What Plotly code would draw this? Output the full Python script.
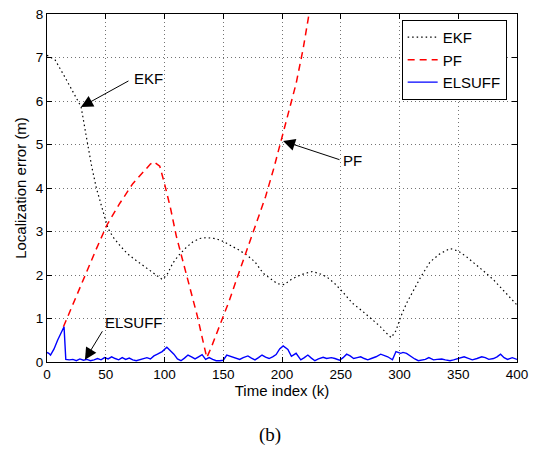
import plotly.graph_objects as go

# ---------------- data ----------------
ekf_t = [0, 7, 15, 22, 29, 34, 38, 42, 46, 49, 52, 56, 62, 68, 74, 80, 86, 92, 98,
         102, 107, 112, 118, 124, 130, 136, 142, 148, 156, 163, 170, 177, 184, 190,
         196, 202, 208, 214, 220, 226, 232, 238, 245, 252, 260, 268, 276, 283, 289,
         293, 297, 301, 306, 312, 318, 326, 334, 343, 350, 357, 365, 372, 380, 388,
         394, 400]
ekf_y = [7.05, 6.94, 6.56, 6.22, 5.87, 5.1, 4.5, 4.0, 3.6, 3.34, 3.07, 2.88, 2.68,
         2.5, 2.37, 2.25, 2.12, 2.0, 1.9, 2.0, 2.27, 2.45, 2.62, 2.76, 2.84, 2.86,
         2.84, 2.8, 2.69, 2.58, 2.46, 2.3, 2.04, 1.92, 1.8, 1.78, 1.9, 1.98, 2.04,
         2.08, 2.03, 1.96, 1.8, 1.6, 1.35, 1.18, 1.0, 0.83, 0.66, 0.56, 0.72, 1.04,
         1.35, 1.66, 1.95, 2.3, 2.48, 2.61, 2.55, 2.42, 2.25, 2.08, 1.89, 1.65,
         1.47, 1.31]

pf_t = [14, 20, 27, 35, 42, 51, 62, 73, 82, 88, 91, 96, 100, 105, 110, 116, 122,
        128, 133, 136, 140, 147, 155, 162, 170, 178, 186, 193, 200, 206, 212, 218,
        223, 228]
pf_y = [0.81, 1.2, 1.65, 2.15, 2.6, 3.15, 3.65, 4.1, 4.38, 4.55, 4.6, 4.5, 4.1,
        3.55, 2.9, 2.27, 1.7, 1.05, 0.45, 0.1, 0.35, 0.85, 1.4, 1.95, 2.55, 3.15,
        3.8, 4.45, 5.15, 5.75, 6.4, 7.2, 8.0, 8.8]

els_t = [0, 1.5, 3, 6, 9, 12, 14.5, 16, 19, 22, 25, 28, 31, 34, 37, 40, 43, 46, 49,
         52, 55, 58, 61, 64, 67, 70, 73, 76, 79, 82, 85, 88, 91, 94, 98, 102, 105,
         108, 111, 114, 117, 120, 123, 126, 129, 132, 135, 138, 141, 144, 147, 150,
         153, 157, 160, 164, 167, 171, 174, 177, 180, 183, 186, 189, 192, 195, 198,
         201, 205, 208, 212, 216, 219, 222, 225, 228, 231, 235, 238, 242, 245, 249,
         252, 255, 258, 261, 264, 267, 270, 273, 276, 280, 284, 287, 290, 294, 297,
         301, 303, 306, 310, 313, 316, 319, 322, 325, 329, 332, 336, 339, 343, 346,
         350, 355, 358, 362, 366, 370, 373, 376, 380, 383, 386, 389, 392, 396, 400]
els_y = [0.22, 0.2, 0.16, 0.3, 0.5, 0.68, 0.81, 0.06, 0.05, 0.06, 0.03, 0.07, 0.04,
         0.06, 0.03, 0.05, 0.08, 0.05, 0.1, 0.07, 0.12, 0.08, 0.05, 0.1, 0.06, 0.09,
         0.05, 0.03, 0.05, 0.08, 0.1, 0.07, 0.14, 0.18, 0.24, 0.34, 0.26, 0.18, 0.07,
         0.03, 0.09, 0.16, 0.12, 0.07, 0.12, 0.17, 0.06, 0.1, 0.06, 0.03, 0.03, 0.04,
         0.16, 0.13, 0.1, 0.06, 0.1, 0.14, 0.09, 0.05, 0.1, 0.16, 0.11, 0.08, 0.12,
         0.17, 0.3, 0.37, 0.29, 0.13, 0.2, 0.05, 0.1, 0.16, 0.09, 0.03, 0.07, 0.11,
         0.08, 0.1, 0.08, 0.04, 0.1, 0.18, 0.14, 0.08, 0.1, 0.12, 0.08, 0.05, 0.08,
         0.12, 0.18, 0.15, 0.12, 0.05, 0.24, 0.2, 0.22, 0.2, 0.12, 0.07, 0.03, 0.05,
         0.06, 0.1, 0.05, 0.06, 0.07, 0.05, 0.03, 0.05, 0.08, 0.12, 0.09, 0.05, 0.08,
         0.12, 0.1, 0.06, 0.08, 0.12, 0.18, 0.1, 0.06, 0.1, 0.06]

x_ticks = [0, 50, 100, 150, 200, 250, 300, 350, 400]
y_ticks = [0, 1, 2, 3, 4, 5, 6, 7, 8]

FONT = "Liberation Sans, Arial, Helvetica, sans-serif"

fig = go.Figure()
fig.add_trace(go.Scatter(x=ekf_t, y=ekf_y, name="EKF", mode="lines",
                         line=dict(color="black", width=1.2, dash="1.5px,3px")))
fig.add_trace(go.Scatter(x=pf_t, y=pf_y, name="PF", mode="lines",
                         line=dict(color="#ff0000", width=1.5, dash="7px,5px")))
fig.add_trace(go.Scatter(x=els_t, y=els_y, name="ELSUFF", mode="lines",
                         line=dict(color="#0000ff", width=1.4)))

axis_common = dict(showline=True, linecolor="black", linewidth=1, mirror="ticks",
                   ticks="inside", ticklen=5, tickcolor="black",
                   showgrid=True, gridcolor="rgba(0,0,0,0.55)", gridwidth=1,
                   griddash="1px,3px", zeroline=False, automargin=False,
                   tickfont=dict(family=FONT, size=13.5, color="black"))

fig.update_xaxes(range=[0, 400], tickvals=x_ticks, ticktext=[str(v) for v in x_ticks],
                 title=dict(text="Time index (k)", standoff=3,
                            font=dict(family=FONT, size=15, color="black")),
                 **axis_common)
fig.update_yaxes(range=[0, 8], tickvals=y_ticks, ticktext=[str(v) for v in y_ticks],
                 title=dict(text="Localization error (m)", standoff=5,
                            font=dict(family=FONT, size=15, color="black")),
                 **axis_common)

# arrows (head -> tail in data coordinates) and labels
arrows = [
    dict(x=28.9, y=5.86, ax=70.6, ay=6.48),     # EKF
    dict(x=200.9, y=5.08, ax=250.2, ay=4.64),   # PF
    dict(x=32.3, y=0.05, ax=47.9, ay=0.74),     # ELSUFF
]
for a in arrows:
    fig.add_annotation(x=a["x"], y=a["y"], ax=a["ax"], ay=a["ay"], xref="x", yref="y",
                       axref="x", ayref="y", text="", showarrow=True,
                       arrowhead=2, arrowsize=2.4, arrowwidth=1, arrowcolor="black")

labels = [
    dict(text="EKF", x=72.0, y=6.51),
    dict(text="PF", x=250.5, y=4.64),
    dict(text="ELSUFF", x=47.3, y=0.91),
]
for l in labels:
    fig.add_annotation(x=l["x"], y=l["y"], xref="x", yref="y", text=l["text"],
                       showarrow=False, xanchor="left", yanchor="middle",
                       font=dict(family=FONT, size=15, color="black"))

fig.add_annotation(x=0.4745, y=-0.21, xref="paper", yref="paper", text="(b)",
                   showarrow=False, xanchor="center", yanchor="middle",
                   font=dict(family="Liberation Serif, Times New Roman, serif", size=19,
                             color="black"))

fig.update_layout(
    width=534, height=449,
    margin=dict(l=47, r=17, t=14, b=87),
    paper_bgcolor="white", plot_bgcolor="white",
    showlegend=True,
    legend=dict(x=0.978, y=0.983, xanchor="right", yanchor="top",
                bgcolor="white", bordercolor="black", borderwidth=1,
                font=dict(family=FONT, size=15, color="black"),
                tracegroupgap=0, itemwidth=30),
)

fig.write_html("out.html", config={"displayModeBar": False},
               post_script="document.body.style.margin='0';document.body.style.overflow='hidden';")
